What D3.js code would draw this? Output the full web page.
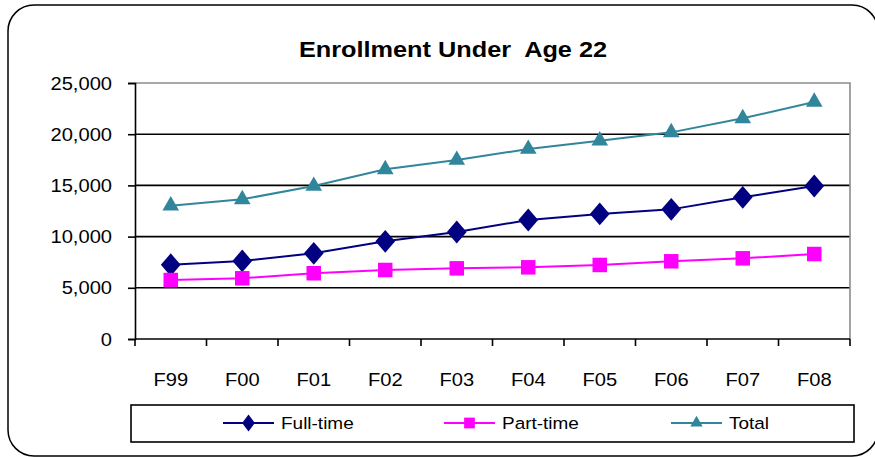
<!DOCTYPE html>
<html>
<head>
<meta charset="utf-8">
<script src="https://cdn.jsdelivr.net/npm/d3@7"></script>
<style>
  body { margin: 0; background: #fff; }
  text { font-family: "Liberation Sans", Arial, sans-serif; fill: #000; }
</style>
</head>
<body>
<div id="chart"></div>
<script>
// chart data
var categories = ["F99", "F00", "F01", "F02", "F03", "F04", "F05", "F06", "F07", "F08"];
var fullTime = [7250, 7620, 8370, 9540, 10450, 11620, 12210, 12660, 13840, 14940];
var partTime = [5760, 5930, 6420, 6740, 6900, 7000, 7230, 7590, 7880, 8300];
var total = [13020, 13640, 14940, 16570, 17480, 18550, 19370, 20180, 21550, 23150];
var yTicks = [0, 5000, 10000, 15000, 20000, 25000];
var seriesNames = ["Full-time", "Part-time", "Total"];

// layout
var width = 875, height = 457,
    plot = {left: 135, right: 850, top: 83, bottom: 339},
    sx = 1.15; // text in the picture is a bit wide

var svg = d3.select("#chart").append("svg")
    .attr("width", width)
    .attr("height", height);

// outer rounded frame
svg.append("rect")
    .attr("x", 8).attr("y", 5)
    .attr("width", 870).attr("height", 451)
    .attr("rx", 26).attr("ry", 26)
    .attr("fill", "#fff")
    .attr("stroke", "#000")
    .attr("stroke-width", 1.5);

// scales
var xScale = d3.scaleBand()
    .domain(categories)
    .range([plot.left, plot.right]);

var yScale = d3.scaleLinear()
    .domain([0, 25000])
    .range([plot.bottom, plot.top]);

function stretchedText(g, x, y, str, size, anchor, weight) {
    var t = g.append("g")
        .attr("transform", "translate(" + x + "," + y + ") scale(" + sx + ",1)")
        .append("text")
        .attr("font-size", size)
        .attr("text-anchor", anchor)
        .text(str);
    if (weight) t.attr("font-weight", weight);
    return t;
}

// title
stretchedText(svg, 453, 57, "Enrollment Under\u00a0 Age 22", 22, "middle", "bold");

// grid lines
svg.append("g")
    .selectAll("line")
    .data(yTicks.filter(function(d) { return d > 0 && d < 25000; }))
    .enter().append("line")
        .attr("x1", plot.left).attr("x2", plot.right)
        .attr("y1", function(d) { return yScale(d); })
        .attr("y2", function(d) { return yScale(d); })
        .attr("stroke", "#000")
        .attr("stroke-width", 1.6);

// plot border top / right (gray)
svg.append("path")
    .attr("d", "M" + plot.left + "," + yScale(25000) + "H" + plot.right + "V" + plot.bottom)
    .attr("fill", "none")
    .attr("stroke", "#8c8c8c")
    .attr("stroke-width", 1.6);

// y axis
var yAxis = d3.axisLeft(yScale)
    .tickValues(yTicks)
    .tickSize(7)
    .tickFormat(d3.format(","));

var yG = svg.append("g")
    .attr("transform", "translate(" + plot.left + ",0)")
    .call(yAxis);
yG.select(".domain").attr("stroke", "#000").attr("stroke-width", 1.6);
yG.selectAll(".tick line").attr("stroke", "#000").attr("stroke-width", 1.6);
yG.selectAll(".tick text").remove();
yG.selectAll(".tick").each(function(d) {
    stretchedText(d3.select(this), -23, 6, d3.format(",")(d), 17.5, "end");
});

// x axis: ticks between categories
var xG = svg.append("g")
    .attr("transform", "translate(0," + plot.bottom + ")");
xG.append("line")
    .attr("x1", plot.left).attr("x2", plot.right)
    .attr("stroke", "#000").attr("stroke-width", 1.6);
var edges = categories.map(function(c) { return xScale(c); }).concat([plot.right]);
xG.selectAll(".xtick")
    .data(edges)
    .enter().append("line")
        .attr("class", "xtick")
        .attr("x1", function(d) { return d; })
        .attr("x2", function(d) { return d; })
        .attr("y1", 0).attr("y2", 7)
        .attr("stroke", "#000").attr("stroke-width", 1.6);
categories.forEach(function(c) {
    stretchedText(xG, xScale(c) + xScale.bandwidth() / 2, 47, c, 17.5, "middle");
});

// series
var series = [
    {name: seriesNames[0], values: fullTime, color: "#000080", symbol: d3.symbolDiamond, size: 150},
    {name: seriesNames[1], values: partTime, color: "#ff00ff", symbol: d3.symbolSquare, size: 210},
    {name: seriesNames[2], values: total, color: "#31869b", symbol: d3.symbolTriangle, size: 120}
];

var line = d3.line()
    .x(function(d, i) { return xScale(categories[i]) + xScale.bandwidth() / 2; })
    .y(function(d) { return yScale(d); });

series.forEach(function(s) {
    svg.append("path")
        .attr("d", line(s.values))
        .attr("fill", "none")
        .attr("stroke", s.color)
        .attr("stroke-width", 2);

    svg.append("g").selectAll("path")
        .data(s.values)
        .enter().append("path")
            .attr("d", d3.symbol().type(s.symbol).size(s.size))
            .attr("transform", function(d, i) {
                var x = xScale(categories[i]) + xScale.bandwidth() / 2;
                var k = s.symbol === d3.symbolDiamond ? "scale(1.5,1)" : "";
                return "translate(" + x + "," + yScale(d) + ")" + k;
            })
            .attr("fill", s.color);
});

// legend
var legend = svg.append("g");
legend.append("rect")
    .attr("x", 131).attr("y", 405)
    .attr("width", 723).attr("height", 37)
    .attr("fill", "#fff")
    .attr("stroke", "#000")
    .attr("stroke-width", 1.6);

var legendX = [223, 444, 671];
series.forEach(function(s, i) {
    var g = legend.append("g").attr("transform", "translate(" + legendX[i] + ",423)");
    g.append("line")
        .attr("x1", 0).attr("x2", 51)
        .attr("stroke", s.color).attr("stroke-width", 2);
    g.append("path")
        .attr("d", d3.symbol().type(s.symbol).size(s.size * 0.55))
        .attr("transform", "translate(25.5,0)" + (s.symbol === d3.symbolDiamond ? "scale(1.3,1)" : ""))
        .attr("fill", s.color);
    stretchedText(g, 58, 6, s.name, 16.5, "start");
});
</script>
</body>
</html>
